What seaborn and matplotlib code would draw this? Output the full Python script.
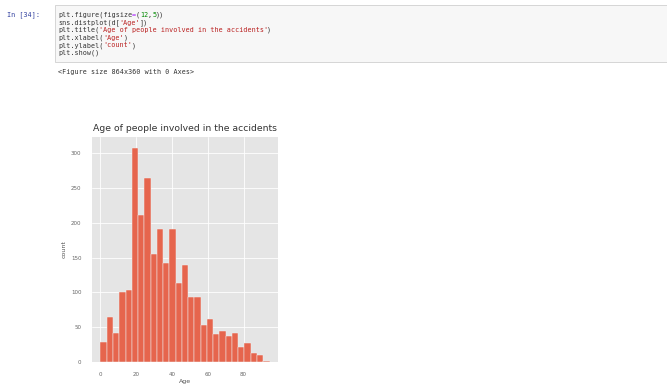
import pandas as pd
import seaborn as sns
import matplotlib.pyplot as plt

# histogram counts (bin width 3.5 years, starting at 0)
bin_width = 3.5
counts = [29, 65, 42, 101, 104, 308, 212, 264, 155, 191, 142, 191, 114, 139,
          93, 93, 53, 62, 40, 45, 38, 42, 22, 28, 13, 10, 2]
edges = [i * bin_width for i in range(len(counts) + 1)]
centers = [e + bin_width / 2 for e in edges[:-1]]

code_lines = [
    [("plt.figure(figsize", "#333333"), ("=", "#AA22FF"), ("(", "#333333"),
     ("12", "#008800"), (",", "#333333"), ("5", "#008800"), ("))", "#333333")],
    [("sns.distplot(d[", "#333333"), ("'Age'", "#BA2121"), ("])", "#333333")],
    [("plt.title(", "#333333"), ("'Age of people involved in the accidents'", "#BA2121"), (")", "#333333")],
    [("plt.xlabel(", "#333333"), ("'Age'", "#BA2121"), (")", "#333333")],
    [("plt.ylabel(", "#333333"), ("'count'", "#BA2121"), (")", "#333333")],
    [("plt.show()", "#333333")],
]

df = pd.DataFrame({"Age": centers, "count": counts})

sns.set_style("darkgrid", {"axes.facecolor": "#E5E5E5", "grid.color": "white"})
plt.rcParams["font.family"] = ["DejaVu Sans"]

W, H = 667, 384
fig = plt.figure(figsize=(W / 100, H / 100), dpi=100)
fig.patch.set_facecolor("white")

# notebook cell: input box
box = plt.Rectangle((55 / W, 1 - 62 / H), 1 - 55 / W, 57 / H, transform=fig.transFigure,
                    facecolor="#F7F7F7", edgecolor="#CFCFCF", linewidth=0.6)
fig.patches.append(box)
fig.text(7 / W, 1 - 15 / H, "In [34]:", fontsize=4.9, family="DejaVu Sans Mono",
         color="#303F9F", va="center")

char_px = 0.602 * 4.9 * 100 / 72
for i, line in enumerate(code_lines):
    x = 58
    y = 15 + i * 7.6
    for txt, col in line:
        fig.text(x / W, 1 - y / H, txt, fontsize=4.9, family="DejaVu Sans Mono",
                 color=col, va="center")
        x += len(txt) * char_px

fig.text(58 / W, 1 - 72 / H, "<Figure size 864x360 with 0 Axes>", fontsize=4.9,
         family="DejaVu Sans Mono", color="#333333", va="center")

# the histogram
ax = fig.add_axes([92 / W, 1 - 362 / H, 186 / W, 225 / H])
sns.histplot(data=df, x="Age", weights="count", bins=edges, color="#E6654D", alpha=1,
             edgecolor="#F0F0F0", linewidth=0.35, ax=ax)
ax.set_xticks([0, 20, 40, 60, 80])
ax.set_yticks([0, 50, 100, 150, 200, 250, 300])
ax.tick_params(labelsize=4, colors="#666666", pad=4)
ax.grid(True, color="white", linewidth=0.6)
ax.set_title("Age of people involved in the accidents", fontsize=6.7, color="#333333", pad=4)
ax.set_xlabel("Age", fontsize=4.5, color="#555555", labelpad=1)
ax.set_ylabel("count", fontsize=4.5, color="#555555", labelpad=3)
for s in ax.spines.values():
    s.set_visible(False)

fig.savefig("out.png", dpi=100)
